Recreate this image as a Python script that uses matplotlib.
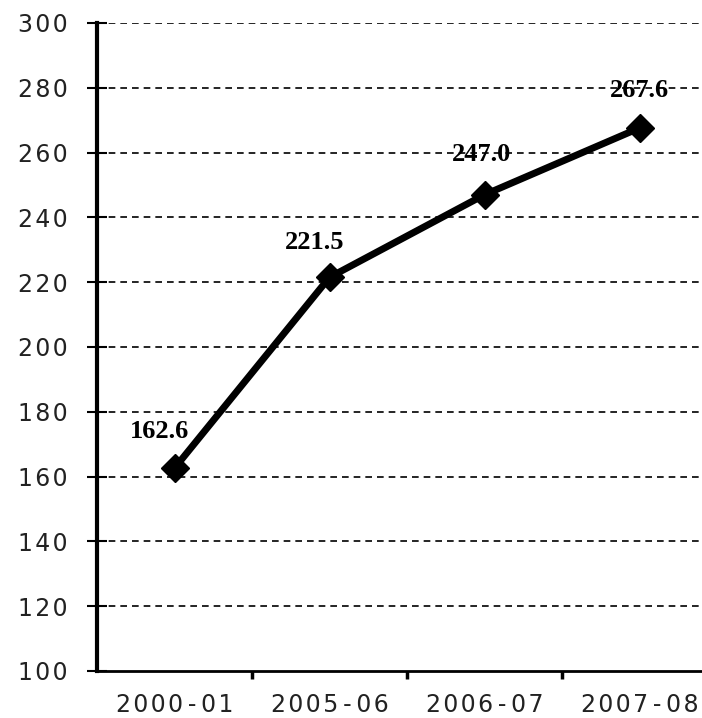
import matplotlib
matplotlib.use("Agg")
import matplotlib.pyplot as plt
import numpy as np

categories = ["2000-01", "2005-06", "2006-07", "2007-08"]
values = [162.6, 221.5, 247.0, 267.6]
yticks = [100, 120, 140, 160, 180, 200, 220, 240, 260, 280, 300]
label_offsets_px = [(-15, 37), (-15, 35), (-3, 40), (0, 37)]

HAIR = "\u200a"
THIN = "\u2009"

def spaced(s):
    out = HAIR.join(s)
    return out.replace(HAIR + "-" + HAIR, THIN + "-" + THIN)

fig = plt.figure(figsize=(7.02, 7.18), dpi=100)
ax = fig.add_axes([97/702, 1-671/718, 620/702, 648/718])

x = np.arange(len(categories))
ax.plot(x, values, color="black", lw=5, marker="D", markersize=14, zorder=3)
for xi, v, (dx, dy) in zip(x, values, label_offsets_px):
    ax.annotate(f"{v:.1f}", (xi, v), xytext=(dx*0.72, dy*0.72), textcoords="offset points",
                ha="center", va="center", fontsize=19, fontweight="bold",
                family="Liberation Serif", color="black", zorder=5)

ax.set_xlim(-0.5, 3.5)
ax.set_ylim(100, 300)
ax.set_yticks(yticks)
ax.set_yticklabels([spaced(str(t)) for t in yticks], fontsize=17, family="DejaVu Sans",
                   color="#222222")
for t in yticks[1:]:
    ax.axhline(t, color="black", lw=1.2, ls=(0, (4, 3)), zorder=1)

ax.set_xticks(x)
ax.set_xticklabels([spaced(c) for c in categories], fontsize=17, family="DejaVu Sans",
                   color="#222222")
ax.tick_params(axis="x", length=0, pad=16)
ax.set_xticks([0.5, 1.5, 2.5], minor=True)
ax.tick_params(axis="x", which="minor", length=6, width=2.5, direction="out")
ax.tick_params(axis="y", length=14, width=1.5, direction="inout", pad=14)

for s in ["top", "right"]:
    ax.spines[s].set_visible(False)
ax.spines["left"].set_linewidth(3)
ax.spines["bottom"].set_linewidth(2)
ax.spines["left"].set_zorder(4)

fig.savefig("out.png", dpi=100)
